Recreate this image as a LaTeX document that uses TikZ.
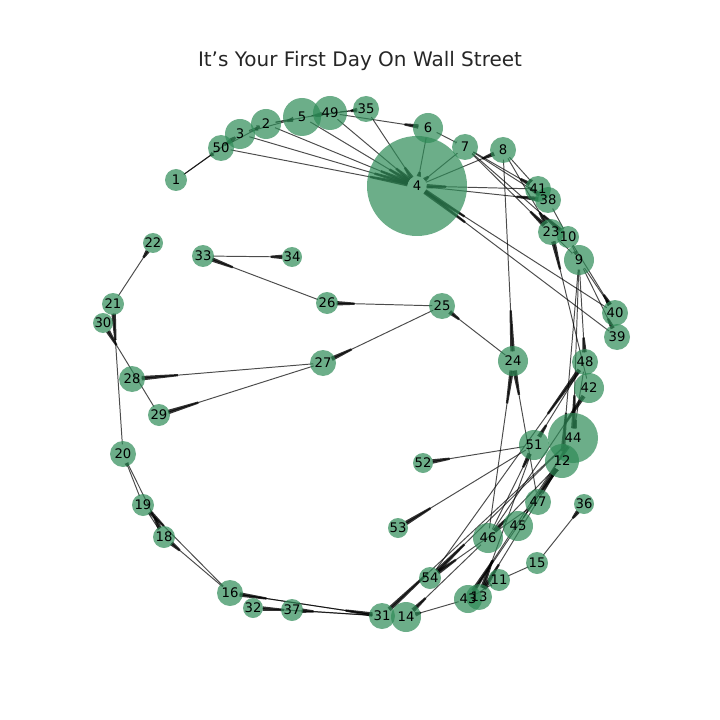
\documentclass[tikz,border=0pt]{standalone}
\usepackage{fontspec}
\setmainfont{DejaVu Sans}
\usetikzlibrary{calc}
\definecolor{seagreen}{RGB}{46,139,87}

% id / x / y / radius, in pixels of the 720x720 canvas
\def\vertlist{1/176/180/11, 2/266/124/15, 3/240/134/15, 4/417/186/50, 5/302/117/19,
  6/428/128/15, 7/465/147/13, 8/503/150/13, 9/579/260/15, 10/568/237/11,
  11/499/580/11, 12/562/461/17, 13/479/597/13, 14/406/617/15, 15/537/563/11,
  16/230/593/13, 18/164/537/11, 19/143/505/11, 20/123/454/13, 21/113/304/11,
  22/153/243/10, 23/551/232/13, 24/513/361/15, 25/442/306/13, 26/327/303/11,
  27/323/363/13, 28/132/379/13, 29/159/415/11, 30/103/323/10, 31/382/616/13,
  32/253/608/10, 33/203/256/11, 34/292/257/10, 35/366/109/13, 36/584/504/10,
  37/292/610/11, 38/548/200/13, 39/617/337/13, 40/615/313/13, 41/538/189/13,
  42/589/388/15, 43/468/599/14, 44/573/438/25, 45/518/526/15, 46/488/538/15,
  47/538/502/13, 48/585/362/13, 49/330/113/17, 50/221/148/13, 51/534/445/15,
  52/423/463/10, 53/398/528/10, 54/430/578/11}

\begin{document}
\begin{tikzpicture}[x=0.72pt, y=-0.72pt,
    vert/.style={circle, fill=seagreen, fill opacity=0.7, inner sep=0pt},
    lbl/.style={inner sep=0pt, font=\fontsize{9.5}{9.5}\selectfont},
    link/.style={black, opacity=0.7, line width=0.7pt, shorten <=7pt, shorten >=7pt},
    tip/.style={black, opacity=0.8}]
  \useasboundingbox (0,0) rectangle (720,720);
  \node[font=\fontsize{14.4}{16}\selectfont, text=black!85] (title) at (360,61)
    {It’s Your First Day On Wall Street};
  \foreach \n/\x/\y/\r in \vertlist {
    \coordinate (c\n) at (\x,\y);
  }
  % each link gets a long thin head that stops a little short of the target centre
  \foreach \a/\b in {1/50, 1/3, 50/3, 3/2, 50/2, 2/5, 3/5, 5/49, 2/49, 49/35, 5/35, 49/6,
      50/4, 3/4, 2/4, 5/4, 49/4, 35/4, 6/4, 7/4, 41/4, 40/4, 39/4, 4/8, 4/38,
      6/7, 7/41, 7/38, 7/23, 7/10, 8/41, 8/23, 8/24, 38/10, 23/9, 10/9,
      10/40, 9/39, 9/40, 9/48, 9/44, 9/12, 42/23, 48/44,
      48/51, 51/52, 51/53, 46/51, 46/24, 47/24, 24/25,
      25/26, 25/27, 26/33, 33/34, 27/28, 27/29, 29/30, 20/21, 21/22,
      19/20, 20/18, 19/18, 16/18, 16/19,
      31/16, 16/31, 31/32, 31/37,
      44/31, 46/14, 43/14, 43/11, 11/15, 15/36,
      47/54, 44/54, 12/46, 12/13, 44/43, 51/13, 43/12,
      54/48, 46/42, 45/12, 47/12, 45/44} {
    \draw[link] (c\a) -- (c\b);
    \coordinate (p) at ($(c\b)!7pt!(c\a)$);
    \coordinate (q) at ($(c\b)!0.24!(c\a)$);
    \fill[tip] ($(p)!1.6pt!90:(q)$) -- ($(q)!0.8pt!-90:(p)$)
      -- ($(q)!0.8pt!90:(p)$) -- ($(p)!1.6pt!-90:(q)$) -- cycle;
  }
  \foreach \n/\x/\y/\r in \vertlist {
    \node[vert, minimum size={1.44pt*\r}] (v\n) at (c\n) {};
  }
  \foreach \n/\x/\y/\r in \vertlist {
    \node[lbl] at (v\n) {\n};
  }
\end{tikzpicture}
\end{document}
